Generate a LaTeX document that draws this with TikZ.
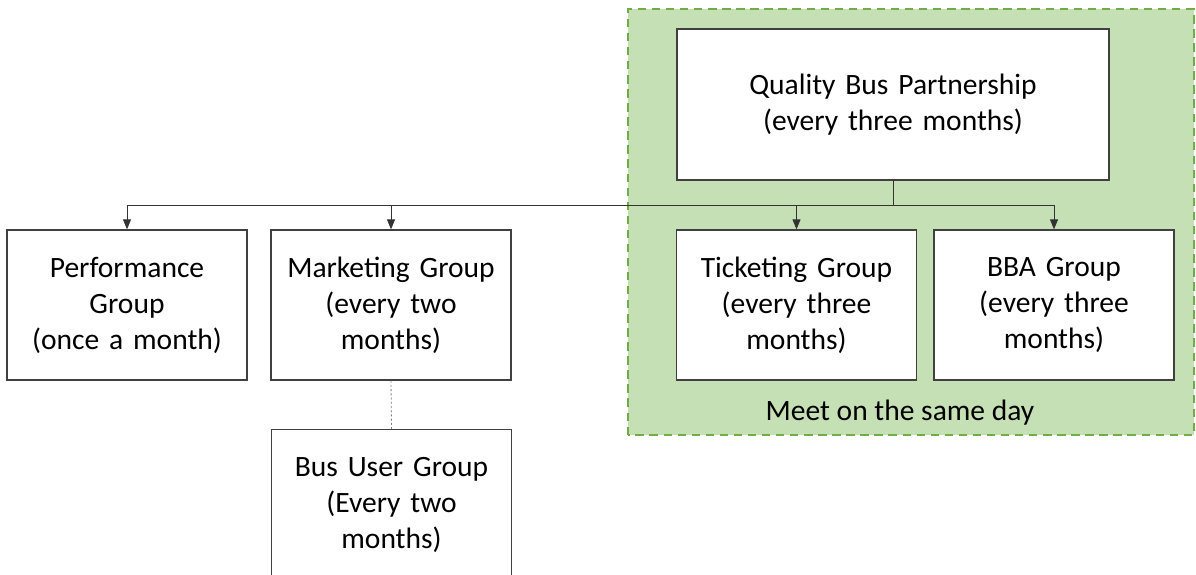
\documentclass[tikz,border=0pt]{standalone}
\usepackage{fontspec}
\setmainfont{Carlito}
\usetikzlibrary{arrows.meta}
\definecolor{boxline}{RGB}{64,64,64}
\definecolor{lightgreen}{RGB}{197,224,180}
\definecolor{darkgreen}{RGB}{112,173,71}

\begin{document}
\begin{tikzpicture}
    \tikzset{%
      box/.style={rectangle, draw=boxline, fill=white, line width=0.9pt,
        inner sep=0pt, minimum width=6cm, minimum height=3.75cm,
        text width=5.8cm, align=center,
        font=\fontsize{21}{25.6}\selectfont},
      arr/.style={-{Triangle[length=0.25cm,width=0.2cm]}, black!80,
        line width=0.6pt},
      link/.style={black!80, line width=0.6pt},
    }
    \useasboundingbox (0,0) rectangle (29.9,14.375);

    % the group that meets on the same day
    \fill[lightgreen] (15.7,3.5) rectangle (29.85,14.15);
    \draw[darkgreen, line width=1.4pt, dash pattern=on 6pt off 4pt]
      (15.7,3.5) rectangle (29.85,14.15);
    \node[font=\fontsize{21}{25.6}\selectfont] (same) at (22.5,4.05)
      {Meet on the same day};

    \node[box, minimum width=10.8cm, minimum height=3.775cm,
      text width=10cm] (qbp) at (22.325,11.7625)
      {Quality Bus Partnership\\(every three months)};

    \node[box] (perf) at (3.175,6.75) {Performance\\Group\\(once a month)};
    \node[box] (mkt) at (9.775,6.75) {Marketing Group\\(every two\\months)};
    \node[box] (tick) at (19.9125,6.75) {Ticketing Group\\(every three\\months)};
    \node[box] (bba) at (26.35,6.75) {BBA Group\\(every three\\months)};

    \node[box, anchor=north] (bug) at (9.7875,3.65)
      {Bus User Group\\(Every two\\months)};

    % connectors
    \coordinate (split) at (22.325,9.25);
    \draw[link] (qbp) -- (split);
    \draw[arr] (split) -| (perf.north);
    \draw[arr] (split) -| (mkt.north);
    \draw[arr] (split) -| (tick.north);
    \draw[arr] (split) -| (bba.north);

    \draw[gray, line width=0.6pt, dash pattern=on 1.5pt off 1.5pt]
      (mkt.south) -- (bug.north);
\end{tikzpicture}
\end{document}
